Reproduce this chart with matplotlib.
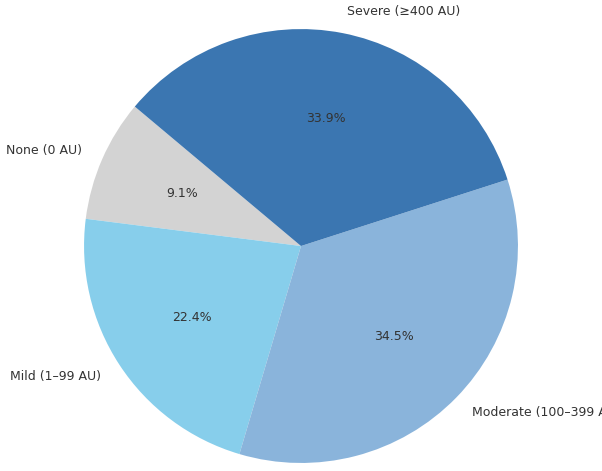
import matplotlib
matplotlib.use("Agg")
import matplotlib.pyplot as plt

labels = ["None (0 AU)", "Mild (1–99 AU)", "Moderate (100–399 AU)", "Severe (≥400 AU)"]
shares = [9.1, 22.4, 34.5, 33.9]
colors = ["#d3d3d3", "#87ceeb", "#8ab4db", "#3b76b1"]

fig = plt.figure(figsize=(6.02, 4.71), dpi=100)
ax = fig.add_axes([0, 0, 1, 1])

wedges, texts, autotexts = ax.pie(shares, labels=labels, colors=colors,
                                  autopct="%1.1f%%", startangle=140,
                                  textprops={"fontsize": 9, "color": "#333333"})

ax.set_xlim(-1.387, 1.387)
ax.set_ylim(-1.037, 1.134)
ax.axis("off")

fig.savefig("out.png", dpi=100)
